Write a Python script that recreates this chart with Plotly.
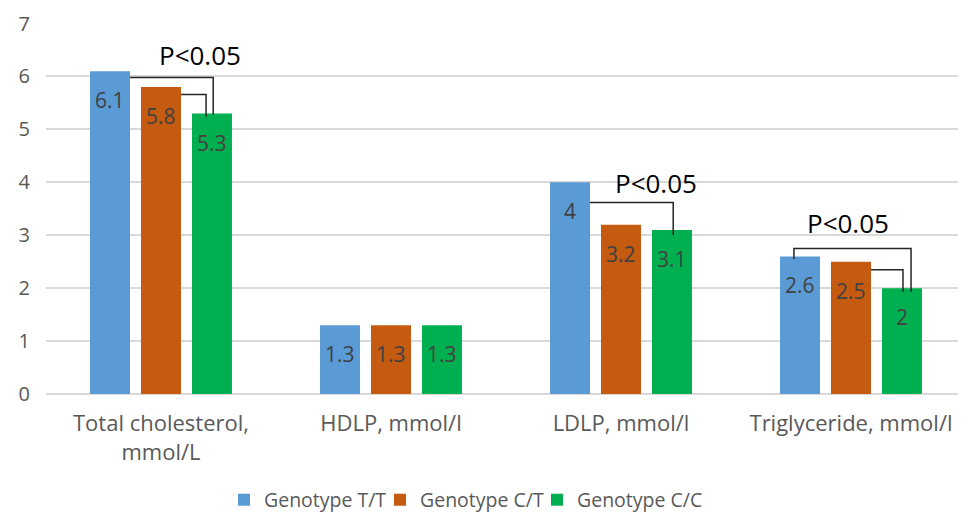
import plotly.graph_objects as go

categories = ["Total cholesterol,<br>mmol/L", "HDLP, mmol/l", "LDLP, mmol/l", "Triglyceride, mmol/l"]
series_names = ["Genotype T/T", "Genotype C/T", "Genotype C/C"]
genotype_tt = [6.1, 1.3, 4.0, 2.6]
genotype_ct = [5.8, 1.3, 3.2, 2.5]
genotype_cc = [5.3, 1.3, 3.1, 2.0]
y_ticks = [0, 1, 2, 3, 4, 5, 6, 7]
colors = ["#5B9BD5", "#C55A11", "#00B050"]

# significance brackets: category index, from series, to series, start level, top level, end level
bracket_cat = [0, 0, 2, 3, 3]
bracket_from = [0, 1, 0, 0, 1]
bracket_to = [2, 2, 2, 2, 2]
bracket_start = [5.98, 5.66, 3.62, 2.55, 2.35]
bracket_top = [5.98, 5.66, 3.62, 2.75, 2.35]
bracket_end = [5.28, 5.24, 3.0, 1.93, 1.93]
p_cat = [0, 2, 3]
p_level = [6.4, 3.98, 3.23]
p_label = "P<0.05"

series = [genotype_tt, genotype_ct, genotype_cc]
FONT = "Open Sans"
SLOT = 0.222
HALF = 0.087
FIG_W = 958
FIG_H = 507
legend_ids = ["legend", "legend2", "legend3"]
legend_px = [216, 372, 529]

fig = go.Figure()
x_idx = list(range(len(categories)))
for name, vals, col, lid in zip(series_names, series, colors, legend_ids):
    fig.add_trace(go.Bar(x=x_idx, y=vals, name=name, legend=lid,
                         marker=dict(color=col, line=dict(width=0))))

# data labels inside end of bars
for s, vals in enumerate(series):
    for i, v in enumerate(vals):
        fig.add_annotation(x=i + (s - 1) * SLOT, y=v, text=f"{v:g}", showarrow=False,
                           yanchor="middle", yshift=-29, xref="x", yref="y",
                           font=dict(family=FONT, size=21, color="#404040"))

# brackets
for c, f, t, ys, yt, ye in zip(bracket_cat, bracket_from, bracket_to, bracket_start, bracket_top, bracket_end):
    if ys == yt:
        x0 = c + (f - 1) * SLOT + HALF
    else:
        x0 = c + (f - 1) * SLOT - 0.026
    x1 = c + (t - 1) * SLOT + (0.005 if f == 0 and ys == yt else 0.0)
    if f == 0 and ys != yt:
        x1 = c + (t - 1) * SLOT + 0.039
    if f == 1:
        x1 = c + (t - 1) * SLOT - (0.026 if c == 0 else -0.004)
    path = f"M {x0} {ys} L {x0} {yt} L {x1} {yt} L {x1} {ye}"
    fig.add_shape(type="path", path=path, xref="x", yref="y",
                  line=dict(color="#262626", width=1.5))

offs = {0: 0.17, 2: 0.152, 3: -0.013}
for c, lv in zip(p_cat, p_level):
    fig.add_annotation(x=c + offs[c], y=lv, text=p_label, showarrow=False,
                       xref="x", yref="y", font=dict(family=FONT, size=26, color="#000000"))

legend_style = dict(orientation="h", xref="container", xanchor="left",
                    y=15 / FIG_H, yref="container", yanchor="middle",
                    font=dict(family=FONT, size=19.5, color="#595959"),
                    bgcolor="rgba(0,0,0,0)")

# page body has an 8px default margin, so the figure is sized/offset to compensate
fig.update_layout(
    template="none",
    width=FIG_W, height=FIG_H,
    margin=dict(l=38, r=0, t=15, b=121, autoexpand=False),
    paper_bgcolor="white", plot_bgcolor="white",
    barmode="group", bargap=0.335, bargroupgap=0.216,
    font=dict(family=FONT, color="#595959"),
    showlegend=True,
    legend=dict(x=legend_px[0] / FIG_W, **legend_style),
    legend2=dict(x=legend_px[1] / FIG_W, **legend_style),
    legend3=dict(x=legend_px[2] / FIG_W, **legend_style),
)
fig.update_xaxes(tickmode="array", tickvals=x_idx, ticktext=categories,
                 range=[-0.5, len(categories) - 0.5], automargin=False,
                 showgrid=False, zeroline=False, showline=False, ticks="",
                 tickfont=dict(family=FONT, size=22, color="#595959"), ticklabelstandoff=14)
fig.update_yaxes(range=[0, 7.01], tickvals=y_ticks, showgrid=True, gridcolor="#D9D9D9", gridwidth=1.5,
                 zeroline=True, zerolinecolor="#D9D9D9", zerolinewidth=1.5, showline=False, ticks="",
                 automargin=False,
                 tickfont=dict(family=FONT, size=20, color="#595959"), ticklabelstandoff=15)

fig.write_html("out.html")
